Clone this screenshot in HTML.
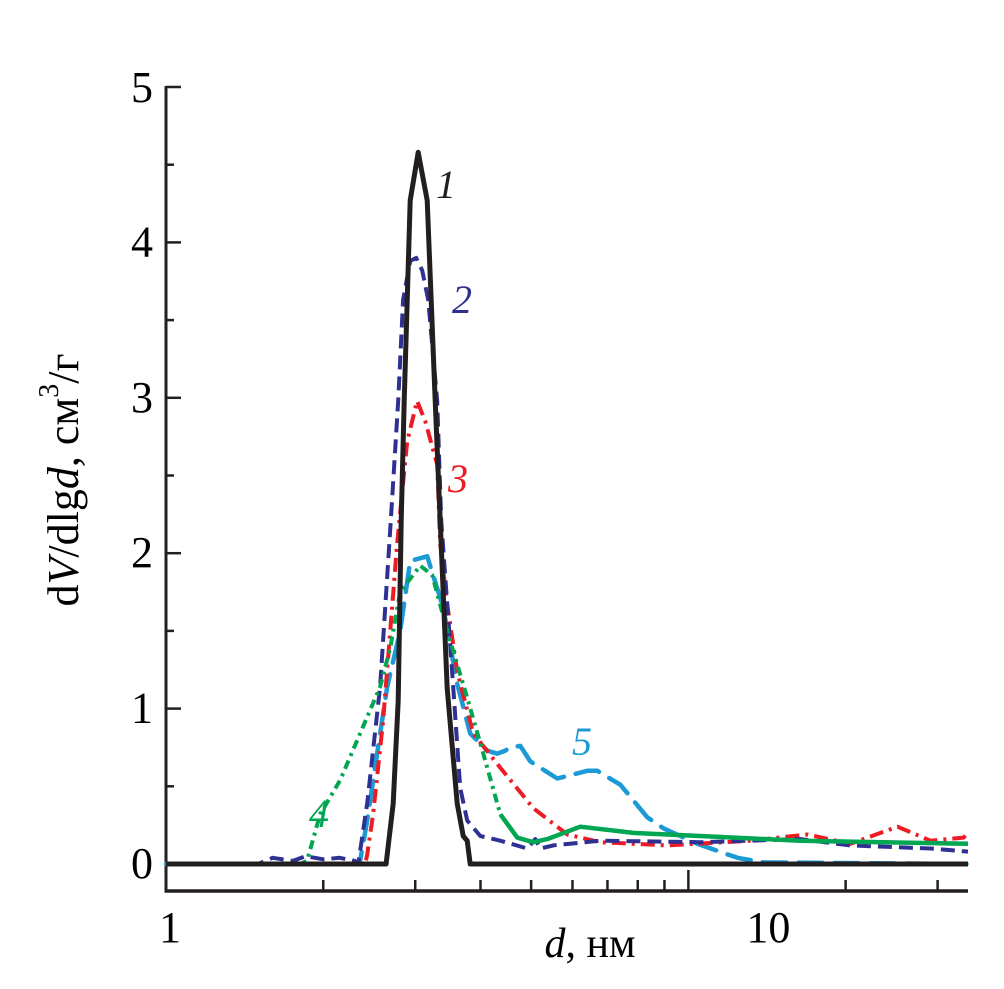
<!DOCTYPE html>
<html><head><meta charset="utf-8"><style>
html,body{margin:0;padding:0;background:#fff;}
svg{display:block;font-family:"Liberation Serif","Times New Roman",serif;}
text{font-family:"Liberation Serif","Times New Roman",serif;}
</style></head><body>
<svg id="chart" width="1004" height="989" viewBox="0 0 1004 989">
<g id="axes"></g>
<g id="series"></g>
<text x="78" y="480" font-size="44" text-anchor="middle" transform="rotate(-90 78 480)">d<tspan font-style="italic">V</tspan>/dlg<tspan font-style="italic">d</tspan>, см<tspan dy="-20" font-size="28">3</tspan><tspan dy="20">/г</tspan></text>
<text x="590" y="957" font-size="42" text-anchor="middle"><tspan font-style="italic">d</tspan>, нм</text>
<text x="446" y="198" font-size="40" font-style="italic" fill="#231f20" text-anchor="middle">1</text>
<text x="462" y="313" font-size="40" font-style="italic" fill="#2e3192" text-anchor="middle">2</text>
<text x="458" y="492" font-size="40" font-style="italic" fill="#ed1c24" text-anchor="middle">3</text>
<text x="319" y="827" font-size="40" font-style="italic" fill="#00a651" text-anchor="middle">4</text>
<text x="582" y="755" font-size="40" font-style="italic" fill="#1b9ad6" text-anchor="middle">5</text>
</svg>
<script>
const yTicks = [0, 1, 2, 3, 4, 5];
const yMinorTicks = [0.5, 1.5, 2.5, 3.5, 4.5];
const xMajorTicks = [1, 10];
const xMinorTicks = [2, 3, 4, 5, 6, 7, 8, 9, 20, 30];
const xTickLabels = ["1", "10"];

const d1 = [1, 2.639, 2.722, 2.783, 2.820, 2.857, 2.934, 3.040, 3.162, 3.276, 3.349, 3.454, 3.610, 3.707, 3.773, 3.823, 34.3];
const v1 = [0, 0, 0.39, 1.05, 2.21, 2.98, 4.27, 4.58, 4.27, 2.98, 2.21, 1.13, 0.39, 0.18, 0.15, 0, 0];

const d2 = [1, 1.5, 1.6, 1.75, 1.85, 2.0, 2.15, 2.3, 2.333, 2.427, 2.570, 2.686, 2.783, 2.844, 2.934, 3.013, 3.094, 3.176, 3.305, 3.364, 3.547, 3.658, 3.773, 3.996, 4.364, 4.916, 5.092, 5.206, 5.514, 6.783, 10.54, 16.39, 20.43, 29.08, 34.3];
const v2 = [0, 0, 0.04, 0.02, 0.05, 0.03, 0.04, 0.02, 0, 0.39, 1.14, 2.15, 2.98, 3.63, 3.88, 3.9, 3.82, 3.63, 2.98, 2.21, 1.14, 0.49, 0.28, 0.18, 0.15, 0.1, 0.16, 0.1, 0.12, 0.15, 0.14, 0.16, 0.12, 0.1, 0.08];

const d3 = [1, 2.406, 2.427, 2.492, 2.604, 2.770, 2.895, 3.025, 3.135, 3.305, 3.349, 3.454, 3.610, 3.874, 4.364, 5.047, 5.865, 6.783, 9.117, 13.15, 16.9, 20.43, 25.14, 29.08, 33.64, 34.3];
const v3 = [0, 0, 0.06, 0.32, 0.92, 2.06, 2.72, 2.98, 2.85, 2.57, 2.06, 1.67, 1.24, 0.84, 0.62, 0.36, 0.19, 0.14, 0.12, 0.15, 0.19, 0.13, 0.24, 0.15, 0.17, 0.2];

const d4 = [1, 1.806, 1.862, 1.972, 2.155, 2.353, 2.570, 2.686, 2.808, 3.067, 3.233, 3.454, 3.773, 4.050, 4.364, 4.704, 5.047, 5.370, 6.209, 7.847, 10.54, 16.39, 34.3];
const v4 = [0, 0, 0.02, 0.32, 0.54, 0.84, 1.14, 1.39, 1.75, 1.92, 1.86, 1.5, 1.07, 0.71, 0.32, 0.17, 0.14, 0.16, 0.24, 0.2, 0.18, 0.15, 0.13];
const greenSolidFrom = 4.364;

const d5 = [1, 2.3, 2.353, 2.427, 2.536, 2.651, 2.808, 2.934, 3.162, 3.394, 3.610, 3.823, 4.121, 4.307, 4.462, 4.560, 4.767, 4.981, 5.61, 6.404, 6.693, 7.409, 8.346, 8.957, 10.40, 12.41, 13.92, 34.3];
const v5 = [0, 0, 0.02, 0.28, 0.71, 1.14, 1.5, 1.95, 1.98, 1.65, 1.16, 0.84, 0.73, 0.71, 0.73, 0.75, 0.76, 0.66, 0.55, 0.6, 0.6, 0.51, 0.3, 0.23, 0.13, 0.04, 0.01, 0];

const X0 = 166, X1 = 968, XMIN = 1, XMAX = 34.3;
const Y0 = 864, YUNIT = 155.4, AXIS_Y = 891;
function xScale(d) { return X0 + (Math.log10(d) - Math.log10(XMIN)) / (Math.log10(XMAX) - Math.log10(XMIN)) * (X1 - X0); }
function yScale(v) { return Y0 - v * YUNIT; }

const NS = "http://www.w3.org/2000/svg";
const axes = document.getElementById("axes");
const series = document.getElementById("series");
function mk(tag, attrs, parent) {
  const e = document.createElementNS(NS, tag);
  for (const k in attrs) e.setAttribute(k, attrs[k]);
  parent.appendChild(e);
  return e;
}

let e;
e = mk("line", {x1: X0, y1: 86, x2: X0, y2: AXIS_Y + 1.5, stroke: "#231f20", "stroke-width": 3}, axes);


e = mk("line", {x1: X0 - 1.5, y1: AXIS_Y, x2: X1, y2: AXIS_Y, stroke: "#231f20", "stroke-width": 3.5}, axes);



yTicks.forEach(function (t) {
  const y = yScale(t);
  if (t > 0) {
    const l = mk("line", {x1: X0, y1: y, x2: X0 + 15, y2: y, stroke: "#231f20", "stroke-width": 2.5}, axes);
    
    
  }
  const tx = mk("text", {x: 142, y: (t === 5 ? 88 : y) + 14, "font-size": 44, "text-anchor": "middle"}, axes);
  tx.textContent = String(t);
  
  
});
yMinorTicks.forEach(function (t) {
  const y = yScale(t);
  const l = mk("line", {x1: X0, y1: y, x2: X0 + 8, y2: y, stroke: "#231f20", "stroke-width": 2.5}, axes);
  
  
});
xMajorTicks.forEach(function (t, i) {
  const x = xScale(t);
  if (t > 1) {
    const l = mk("line", {x1: x, y1: AXIS_Y, x2: x, y2: 870, stroke: "#231f20", "stroke-width": 2.5}, axes);
    
    
  }
  const tx = mk("text", {x: t === 1 ? x + 4 : x + 80, y: 942, "font-size": 44, "text-anchor": "middle"}, axes);
  tx.textContent = xTickLabels[i];
  
  
});
xMinorTicks.forEach(function (t) {
  const x = xScale(t);
  const l = mk("line", {x1: x, y1: AXIS_Y, x2: x, y2: 880, stroke: "#231f20", "stroke-width": 2.5}, axes);
  
  
});

function pathD(ds, vs, from, to) {
  let s = "", first = true;
  for (let i = 0; i < ds.length; i++) {
    if (ds[i] < from || ds[i] > to) continue;
    s += (first ? "M" : "L") + xScale(ds[i]).toFixed(1) + "," + yScale(vs[i]).toFixed(1);
    first = false;
  }
  return s;
}
let p;
p = mk("path", {d: pathD(d5, v5, 0, 1e9), fill: "none", stroke: "#1b9ad6", "stroke-width": 4.5, "stroke-dasharray": "24 12", "stroke-linejoin": "round", "stroke-linecap": "round"}, series);


p = mk("path", {d: pathD(d3, v3, 0, 1e9), fill: "none", stroke: "#ed1c24", "stroke-width": 4, "stroke-dasharray": "14 6 3 6", "stroke-linejoin": "round"}, series);


p = mk("path", {d: pathD(d2, v2, 0, 1e9), fill: "none", stroke: "#2e3192", "stroke-width": 4, "stroke-dasharray": "14 7", "stroke-linejoin": "round"}, series);


p = mk("path", {d: pathD(d4, v4, 0, greenSolidFrom), fill: "none", stroke: "#00a651", "stroke-width": 4, "stroke-dasharray": "9 5 3 5", "stroke-linejoin": "round"}, series);


p = mk("path", {d: pathD(d4, v4, greenSolidFrom, 1e9), fill: "none", stroke: "#00a651", "stroke-width": 4.5, "stroke-linejoin": "round"}, series);


p = mk("path", {d: pathD(d1, v1, 0, 1e9), fill: "none", stroke: "#231f20", "stroke-width": 5, "stroke-linejoin": "round"}, series);


</script>
</body></html>
